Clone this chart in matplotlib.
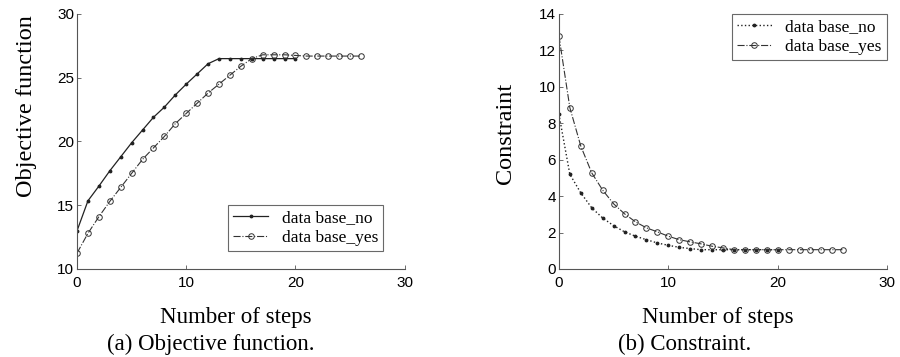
import matplotlib
matplotlib.use("Agg")
import matplotlib.pyplot as plt

# Data
steps_no = list(range(0, 21))
steps_yes = list(range(0, 27))

obj_no = [13.0, 15.35, 16.5, 17.7, 18.8, 19.9, 20.9, 21.9, 22.7, 23.65, 24.5,
          25.3, 26.1, 26.5, 26.5, 26.5, 26.5, 26.5, 26.5, 26.5, 26.5]
obj_yes = [11.25, 12.8, 14.1, 15.3, 16.4, 17.5, 18.6, 19.5, 20.4, 21.4, 22.2,
           23.0, 23.8, 24.5, 25.2, 25.9, 26.5, 26.8, 26.8, 26.8, 26.75, 26.7,
           26.7, 26.7, 26.7, 26.7, 26.7]

con_no = [8.5, 5.2, 4.18, 3.36, 2.8, 2.38, 2.04, 1.8, 1.61, 1.43, 1.3,
          1.19, 1.12, 1.06, 1.06, 1.06, 1.06, 1.06, 1.06, 1.06, 1.06]
con_yes = [12.8, 8.86, 6.75, 5.28, 4.33, 3.58, 3.03, 2.59, 2.26, 2.04, 1.8,
           1.61, 1.49, 1.38, 1.25, 1.16, 1.06, 1.06, 1.06, 1.06, 1.06, 1.06,
           1.06, 1.06, 1.06, 1.06, 1.06]

labels = ["data base_no", "data base_yes"]
serif = ["Liberation Serif", "DejaVu Serif"]
sans = ["Liberation Sans", "DejaVu Sans"]

fig = plt.figure(figsize=(9, 3.57), dpi=100)
ax1 = fig.add_axes([0.0856, 0.2465, 0.364, 0.7143])
ax2 = fig.add_axes([0.621, 0.2465, 0.3646, 0.7143])


def style_axes(ax, ylim, yticks):
    ax.set_xlim(0, 30)
    ax.set_ylim(*ylim)
    ax.set_xticks([0, 10, 20, 30])
    ax.set_yticks(yticks)
    for side in ["top", "right"]:
        ax.spines[side].set_visible(False)
    for side in ["left", "bottom"]:
        ax.spines[side].set_color("#555555")
        ax.spines[side].set_linewidth(0.8)
    ax.tick_params(direction="in", length=3, width=0.6, color="#555555",
                   labelsize=11)
    ax.tick_params(axis="x", pad=5)
    ax.tick_params(axis="y", pad=2)
    for lab in ax.get_xticklabels() + ax.get_yticklabels():
        lab.set_family(sans)


# (a) objective function
ax1.plot(steps_no, obj_no, "-", marker=".", ms=3.5, lw=0.9, color="#222222",
         label=labels[0])
ax1.plot(steps_yes, obj_yes, "-.", marker="o", ms=4, mfc="none", mew=0.7,
         lw=0.8, color="#333333", label=labels[1])
style_axes(ax1, (10, 30), [10, 15, 20, 25, 30])
leg1 = ax1.legend(loc="lower right", bbox_to_anchor=(0.935, 0.07),
                  prop={"family": serif, "size": 12.5}, frameon=True,
                  fancybox=False, borderpad=0.3, handlelength=2.0,
                  labelspacing=0.2, borderaxespad=0)
leg1.get_frame().set_edgecolor("#444444")
leg1.get_frame().set_linewidth(0.8)

# (b) constraint
ax2.plot(steps_no, con_no, ":", marker=".", ms=3.5, lw=1.0, color="#222222",
         label=labels[0])
ax2.plot(steps_yes, con_yes, "-.", marker="o", ms=4, mfc="none", mew=0.7,
         lw=0.8, color="#333333", label=labels[1])
style_axes(ax2, (0, 14), [0, 2, 4, 6, 8, 10, 12, 14])
leg2 = ax2.legend(loc="upper right", bbox_to_anchor=(1.0, 1.0),
                  prop={"family": serif, "size": 12.5}, frameon=True,
                  fancybox=False, borderpad=0.3, handlelength=2.0,
                  labelspacing=0.2, borderaxespad=0)
leg2.get_frame().set_edgecolor("#444444")
leg2.get_frame().set_linewidth(0.8)

# labels and captions
fs = 16.5
fig.text(0.029, 0.703, "Objective function", rotation=90, ha="center",
         va="center", family=serif, size=17.5)
fig.text(0.562, 0.627, "Constraint", rotation=90, ha="center",
         va="center", family=serif, size=17.5)
fig.text(0.262, 0.112, "Number of steps", ha="center", va="center",
         family=serif, size=fs)
fig.text(0.798, 0.112, "Number of steps", ha="center", va="center",
         family=serif, size=fs)
fig.text(0.234, 0.034, "(a) Objective function.", ha="center", va="center",
         family=serif, size=fs)
fig.text(0.761, 0.034, "(b) Constraint.", ha="center", va="center",
         family=serif, size=fs)

fig.savefig("out.png", dpi=100)
